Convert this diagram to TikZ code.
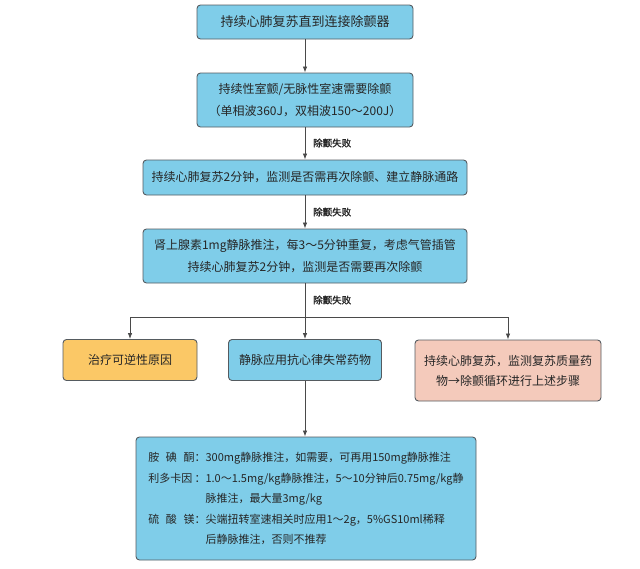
\documentclass[tikz,border=0pt]{standalone}
\usepackage{fontspec}
\setmainfont{Noto Sans CJK SC}
\newfontfamily\lblfont[FakeBold=1.2]{Noto Sans CJK SC}
\usetikzlibrary{arrows.meta}
\definecolor{bluefill}{HTML}{7FCDE9}
\definecolor{yelfill}{HTML}{FBC866}
\definecolor{pinkfill}{HTML}{F4CABB}
\definecolor{edgegray}{HTML}{555B60}
\definecolor{linegray}{HTML}{4A4A4A}
\tikzset{
  box/.style={draw=edgegray, line width=0.9pt, rounded corners=3.5pt, inner sep=0pt,
    align=center, font=\fontsize{12}{22}\selectfont, text=black!85},
  bluebox/.style={box, fill=bluefill},
  yelbox/.style={box, fill=yelfill},
  pinkbox/.style={box, fill=pinkfill, font=\fontsize{12}{20}\selectfont},
  conn/.style={draw=linegray, line width=0.8pt},
  arr/.style={conn, -{Latex[length=6pt,width=4.5pt]}},
  lbl/.style={anchor=west, font=\lblfont\fontsize{9.5}{11}\selectfont, text=black!85, inner sep=0pt}
}
\begin{document}
\begin{tikzpicture}[x=1pt,y=1pt]
\useasboundingbox (0,0) rectangle (640,-568);
\node[bluebox, minimum width=216pt, minimum height=34pt, font=\fontsize{13}{22}\selectfont] (b1) at (305,-22) {持续心肺复苏直到连接除颤器};
\node[bluebox, minimum width=216pt, minimum height=54pt] (b2) at (305,-100) {持续性室颤/无脉性室速需要除颤\\（单相波360J，双相波150～200J）};
\node[bluebox, minimum width=324pt, minimum height=35pt] (b3) at (305,-177.5) {持续心肺复苏2分钟，监测是否需再次除颤、建立静脉通路};
\node[bluebox, minimum width=324pt, minimum height=54pt] (b4) at (305,-256) {肾上腺素1mg静脉推注，每3～5分钟重复，考虑气管插管\\持续心肺复苏2分钟，监测是否需要再次除颤};
\node[yelbox, minimum width=134pt, minimum height=41pt] (yel) at (130,-360) {治疗可逆性原因};
\node[bluebox, minimum width=153pt, minimum height=41pt] (mid) at (305,-360) {静脉应用抗心律失常药物};
\node[pinkbox, minimum width=186pt, minimum height=61pt] (pink) at (508,-370.5) {持续心肺复苏，监测复苏质量药\\物→除颤循环进行上述步骤};
\node[bluebox, minimum width=340pt, minimum height=123pt, align=left, inner xsep=0pt, font=\fontsize{11}{20.5}\selectfont] (b5) at (306,-498.5) {%
\begin{tabular}{@{}l@{}l@{}}
\makebox[4.2em][s]{胺\hfill 碘\hfill 酮}：&300mg静脉推注，如需要，可再用150mg静脉推注\\
\makebox[4.2em][s]{利多卡因}：&1.0～1.5mg/kg静脉推注，5～10分钟后0.75mg/kg静\\
&脉推注，最大量3mg/kg\\
\makebox[4.2em][s]{硫\hfill 酸\hfill 镁}：&尖端扭转室速相关时应用1～2g，5\%GS10ml稀释\\
&后静脉推注，否则不推荐
\end{tabular}};
\coordinate (hl) at (130,-317);
\coordinate (hr) at (508,-317);
\draw[arr] (b1) -- (b2);
\draw[arr] (b2) -- (b3);
\draw[arr] (b3) -- (b4);
\draw[arr] (b4) -- (mid);
\draw[conn] (hl) -- (hr);
\draw[arr] (hl) -- (yel);
\draw[arr] (hr) -- (pink);
\draw[arr] (mid) -- (mid|-b5.north);
\node[lbl] (l1) at (313,-143) {除颤失败};
\node[lbl] (l2) at (313,-212) {除颤失败};
\node[lbl] (l3) at (313,-300) {除颤失败};
\end{tikzpicture}
\end{document}
